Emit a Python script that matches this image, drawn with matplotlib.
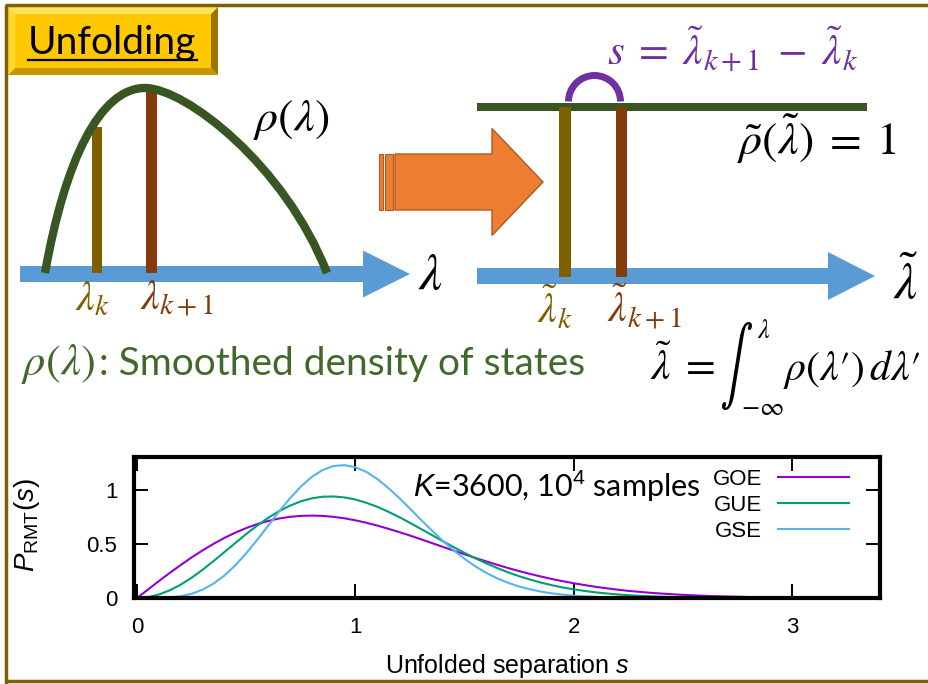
import numpy as np
import matplotlib.pyplot as plt
from matplotlib.patches import Polygon, Rectangle, Arc, PathPatch
from matplotlib.path import Path
from matplotlib.textpath import TextPath
from matplotlib.transforms import Affine2D

plt.rcParams['mathtext.fontset'] = 'stix'
plt.rcParams['mathtext.rm'] = 'Liberation Sans'
plt.rcParams['mathtext.it'] = 'Liberation Sans:italic'

# spacing distributions
s = [0.0, 0.05, 0.1, 0.15, 0.2, 0.25, 0.3, 0.35, 0.4, 0.45,
     0.5, 0.55, 0.6, 0.65, 0.7, 0.75, 0.8, 0.85, 0.9, 0.95,
     1.0, 1.05, 1.1, 1.15, 1.2, 1.25, 1.3, 1.35, 1.4, 1.45,
     1.5, 1.55, 1.6, 1.65, 1.7, 1.75, 1.8, 1.85, 1.9, 1.95,
     2.0, 2.05, 2.1, 2.15, 2.2, 2.25, 2.3, 2.35, 2.4, 2.45,
     2.5, 2.6, 2.7, 2.8, 2.9, 3.0]
goe = [0.0, 0.078, 0.156, 0.232, 0.304, 0.374, 0.439, 0.499, 0.554, 0.603,
       0.645, 0.681, 0.710, 0.733, 0.748, 0.757, 0.760, 0.757, 0.748, 0.735,
       0.716, 0.694, 0.668, 0.639, 0.608, 0.576, 0.542, 0.507, 0.472, 0.437,
       0.403, 0.369, 0.337, 0.306, 0.276, 0.248, 0.222, 0.198, 0.175, 0.155,
       0.136, 0.119, 0.103, 0.090, 0.077, 0.066, 0.057, 0.048, 0.041, 0.035,
       0.029, 0.020, 0.014, 0.009, 0.006, 0.004]
gue = [0.0, 0.008, 0.032, 0.071, 0.123, 0.187, 0.260, 0.340, 0.423, 0.507,
       0.590, 0.667, 0.738, 0.800, 0.851, 0.891, 0.919, 0.934, 0.936, 0.927,
       0.908, 0.878, 0.841, 0.796, 0.747, 0.693, 0.637, 0.581, 0.524, 0.469,
       0.416, 0.366, 0.319, 0.276, 0.236, 0.201, 0.170, 0.142, 0.118, 0.097,
       0.080, 0.065, 0.052, 0.042, 0.033, 0.026, 0.020, 0.016, 0.012, 0.009,
       0.007, 0.004, 0.002, 0.001, 0.001, 0.0]
gse = [0.0, 0.0, 0.001, 0.006, 0.017, 0.039, 0.077, 0.132, 0.207, 0.301,
       0.412, 0.535, 0.665, 0.796, 0.918, 1.027, 1.116, 1.180, 1.217, 1.225,
       1.206, 1.163, 1.098, 1.016, 0.924, 0.824, 0.722, 0.623, 0.528, 0.440,
       0.361, 0.291, 0.231, 0.181, 0.140, 0.106, 0.080, 0.059, 0.043, 0.031,
       0.022, 0.015, 0.010, 0.007, 0.005, 0.003, 0.002, 0.001, 0.001, 0.001,
       0.0, 0.0, 0.0, 0.0, 0.0, 0.0]
names = ['GOE', 'GUE', 'GSE']
colors = ['#9400d3', '#009e73', '#56b4e9']
xticks = [0, 1, 2, 3]
yticks = [0, 0.5, 1]
ytick_labels = ['0', '0.5', '1']

OLIVE = '#7F6000'
BROWN = '#843C0C'
PURPLE = '#7030A0'
GREEN = '#375623'
BLUE = '#5B9BD5'
ORANGE = '#ED7D31'

fig = plt.figure(figsize=(9.29, 6.84), dpi=100)
bg = fig.add_axes([0, 0, 1, 1])
bg.set_xlim(0, 929)
bg.set_ylim(684, 0)
bg.axis('off')


def block_arrow(x0, x1, yc, shaft, head_x, head, color, ec='none'):
    pts = [(x0, yc - shaft / 2), (head_x, yc - shaft / 2), (head_x, yc - head / 2),
           (x1, yc), (head_x, yc + head / 2), (head_x, yc + shaft / 2), (x0, yc + shaft / 2)]
    bg.add_patch(Polygon(pts, closed=True, fc=color, ec=ec, lw=1))


# slide frame
bg.plot([5, 929], [5, 5], color=OLIVE, lw=2.5, solid_capstyle='butt')
bg.plot([6, 6], [5, 684], color=OLIVE, lw=2.5, solid_capstyle='butt')
bg.plot([6, 929], [681, 681], color=OLIVE, lw=2.5, solid_capstyle='butt')

# title box with bevel
x0, y0, x1, y1, b = 8, 7, 218, 75, 7
bg.add_patch(Polygon([(x0, y0), (x1, y0), (x1 - b, y0 + b), (x0 + b, y0 + b)], fc='#FFE15A', ec='none'))
bg.add_patch(Polygon([(x0, y0), (x0 + b, y0 + b), (x0 + b, y1 - b), (x0, y1)], fc='#FFD52E', ec='none'))
bg.add_patch(Polygon([(x0, y1), (x0 + b, y1 - b), (x1 - b, y1 - b), (x1, y1)], fc='#C89600', ec='none'))
bg.add_patch(Polygon([(x1, y0), (x1, y1), (x1 - b, y1 - b), (x1 - b, y0 + b)], fc='#9C7400', ec='none'))
bg.add_patch(Rectangle((x0 + b, y0 + b), x1 - x0 - 2 * b, y1 - y0 - 2 * b, fc='#FFC800', ec='none'))
bg.text(28, 54, 'Unfolding', fontsize=28, family='Lato', va='baseline', ha='left', color='black')
bg.plot([28, 197], [60, 60], color='black', lw=1.6)

# left diagram
block_arrow(20, 410, 274, 16, 363, 47, BLUE)
bg.add_patch(Rectangle((92, 127), 10, 146, fc=OLIVE, ec='none'))
bg.add_patch(Rectangle((146, 89), 11, 184, fc=BROWN, ec='none'))
verts = [(45, 273), (65, 160), (100, 88), (145, 88), (185, 88), (285, 165), (327, 273)]
codes = [Path.MOVETO] + [Path.CURVE4] * 6
bg.add_patch(PathPatch(Path(verts, codes), fc='none', ec=GREEN, lw=6, capstyle='butt'))
bg.text(253, 131, r'$\rho(\lambda)$', fontsize=33, color='black', va='baseline')
bg.text(418, 289, r'$\lambda$', fontsize=37, color='black', va='baseline')
bg.text(75, 310, r'$\lambda_k$', fontsize=30, color=OLIVE, va='baseline')
bg.text(140, 310, r'$\lambda_{k+1}$', fontsize=30, color=BROWN, va='baseline')

# orange arrow
bg.add_patch(Rectangle((379, 154), 4, 56, fc=ORANGE, ec='#AE5A21', lw=0.8))
bg.add_patch(Rectangle((385, 154), 8, 56, fc=ORANGE, ec='#AE5A21', lw=0.8))
block_arrow(395, 543, 182, 56, 492, 107, ORANGE, ec='#AE5A21')

# right diagram
block_arrow(477, 875, 276, 16, 828, 48, BLUE)
bg.add_patch(Rectangle((477, 103), 390, 8, fc=GREEN, ec='none'))
bg.add_patch(Rectangle((559, 107), 12, 170, fc=OLIVE, ec='none'))
bg.add_patch(Rectangle((616, 107), 11, 170, fc=BROWN, ec='none'))
bg.add_patch(Arc((594.5, 101.5), 52, 52, theta1=180, theta2=360, lw=5, color=PURPLE))
bg.text(607, 65, r'$s\;=\;\tilde{\lambda}_{k+1}\;-\;\tilde{\lambda}_k$', fontsize=31, color=PURPLE,
        va='baseline')
bg.text(737, 155, r'$\tilde{\rho}\left(\tilde{\lambda}\right)\;=\;1$', fontsize=33, color='black',
        va='baseline')
bg.text(893, 299, r'$\tilde{\lambda}$', fontsize=37, color='black', va='baseline')
bg.text(537, 323, r'$\tilde{\lambda}_k$', fontsize=30, color=OLIVE, va='baseline')
bg.text(607, 323, r'$\tilde{\lambda}_{k+1}$', fontsize=30, color=BROWN, va='baseline')

bg.text(21, 375, r'$\rho(\lambda)$', fontsize=32, color='#41692B', va='baseline')
bg.text(99, 375, ': Smoothed density of states', fontsize=28, family='Lato',
        color='#41692B', va='baseline')

# unfolding integral, with a tall integral sign stretched to size
bg.text(650, 380, r'$\tilde{\lambda}\;=$', fontsize=31, color='black', va='baseline')
tp = TextPath((0, 0), r'$\int$', size=40)
ext = tp.get_extents()
tr = Affine2D().translate(-ext.x0, -ext.y1).scale(30 / ext.width, -88 / ext.height).translate(722, 322)
bg.add_patch(PathPatch(tr.transform_path(tp), fc='black', ec='none'))
bg.text(757, 331, r'$\lambda$', fontsize=19, color='black', va='center')
bg.text(741, 408, r'$-\infty$', fontsize=19, color='black', va='center')
bg.text(783, 380, r"$\rho(\lambda\prime)\,d\lambda\prime$", fontsize=30, color='black',
        va='baseline')

# lower panel
ax = fig.add_axes([134 / 929, 1 - 598 / 684, (880 - 134) / 929, (598 - 457) / 684])
for vals, name, c in zip([goe, gue, gse], names, colors):
    ax.plot(s, vals, color=c, lw=1.5, label=name)
ax.set_xlim(-0.014, 3.403)
ax.set_ylim(0, 1.3)
ax.set_xticks(xticks)
ax.set_xticklabels([str(t) for t in xticks], family='Liberation Sans', fontsize=16)
ax.set_yticks(yticks)
ax.set_yticklabels(ytick_labels, family='Liberation Sans', fontsize=16)
ax.tick_params(direction='in', length=10, width=1.4, top=True, right=True)
ax.tick_params(axis='x', pad=13.5)
ax.tick_params(axis='y', pad=12)
for sp in ax.spines.values():
    sp.set_linewidth(3)
ax.set_xlabel(r'Unfolded separation $s$', family='Liberation Sans', fontsize=18, math_fontfamily='custom')
ax.xaxis.set_label_coords(0.5, -0.383)
ax.set_ylabel(r'$P_{\mathrm{RMT}}(s)$', fontsize=20, math_fontfamily='custom')
ax.yaxis.set_label_coords(-0.143, 0.518)
ax.yaxis.label.set_verticalalignment('center')
ax.legend(loc='upper right', bbox_to_anchor=(849 / 929, 1 - 469 / 684), bbox_transform=fig.transFigure,
          frameon=False, markerfirst=False, handlelength=3.2, handletextpad=0.72, labelspacing=0.23,
          borderpad=0, borderaxespad=0, prop={'family': 'Liberation Sans', 'size': 16})
fig.text(413 / 929, 1 - 497 / 684, r'$K$=3600, 10$^4$ samples', fontsize=22, family='Lato',
         math_fontfamily='custom', va='baseline')

fig.savefig('out.png', dpi=100)
